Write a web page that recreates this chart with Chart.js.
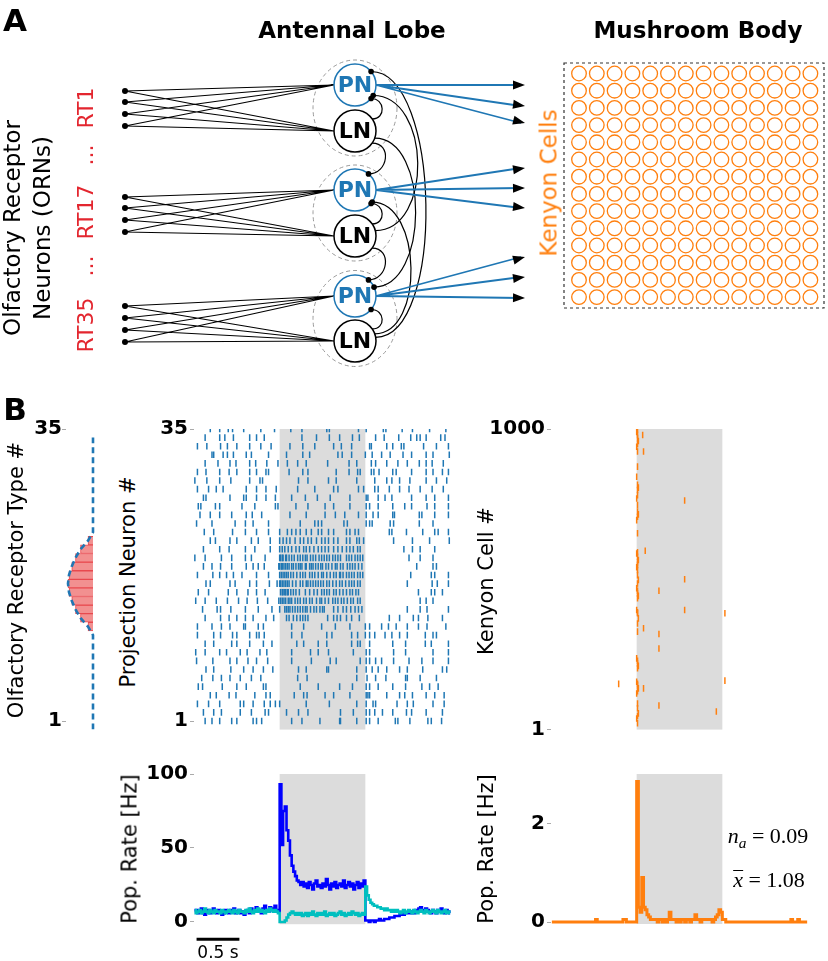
<!DOCTYPE html>
<html>
<head>
<meta charset="utf-8">
<script src="https://cdn.jsdelivr.net/npm/chart.js@4.4.1/dist/chart.umd.min.js"></script>
<style>
  body { margin: 0; background: #fff; }
  #fig { position: relative; width: 828px; height: 961px; overflow: hidden; font-family: 'DejaVu Sans', sans-serif; }
  #fig canvas { position: absolute; }
  .lbl { position: absolute; white-space: nowrap; line-height: 1; transform: translate(-50%, -50%); }
  .rot { transform: translate(-50%, -50%) rotate(-90deg); }
  .b { font-weight: bold; }
  .math { font-family: 'Liberation Serif', serif; font-size: 22px; }
  .math sub { font-size: 0.7em; font-style: italic; vertical-align: -0.3em; line-height: 0; }
  .bar { display: inline-block; border-top: 1.4px solid #000; line-height: 0.75; padding-top: 1px; }
</style>
</head>
<body>
<div id="fig">
  <canvas id="diagram" width="828" height="385" style="left:0;top:0;width:828px;height:385px"></canvas>
  <canvas id="ornChart" width="100" height="345" style="left:0;top:400px;width:100px;height:345px"></canvas>
  <canvas id="pnRaster" width="320" height="345" style="left:140px;top:400px;width:320px;height:345px"></canvas>
  <canvas id="kcRaster" width="358" height="345" style="left:470px;top:400px;width:358px;height:345px"></canvas>
  <canvas id="pnRate" width="320" height="201" style="left:140px;top:760px;width:320px;height:201px"></canvas>
  <canvas id="kcRate" width="358" height="180" style="left:470px;top:760px;width:358px;height:180px"></canvas>

  <div class="lbl b" style="left:15px;top:20px;font-size:31px">A</div>
  <div class="lbl b" style="left:352px;top:30px;font-size:23px">Antennal Lobe</div>
  <div class="lbl b" style="left:698px;top:30px;font-size:23px">Mushroom Body</div>
  <div class="lbl rot" style="left:12px;top:228px;font-size:23px">Olfactory Receptor</div>
  <div class="lbl rot" style="left:42px;top:228px;font-size:23px">Neurons (ORNs)</div>
  <div class="lbl rot" style="left:86px;top:108px;font-size:22px;color:#e3262f">RT1</div>
  <div class="lbl rot" style="left:86px;top:155px;font-size:22px;color:#e3262f">...</div>
  <div class="lbl rot" style="left:86px;top:212px;font-size:22px;color:#e3262f">RT17</div>
  <div class="lbl rot" style="left:86px;top:266px;font-size:22px;color:#e3262f">...</div>
  <div class="lbl rot" style="left:86px;top:325px;font-size:22px;color:#e3262f">RT35</div>
  <div class="lbl rot" style="left:549px;top:183px;font-size:23px;color:#ff7f0e">Kenyon Cells</div>

  <div class="lbl b" style="left:15px;top:409px;font-size:31px">B</div>
  <div class="lbl rot" style="left:16px;top:580px;font-size:21px">Olfactory Receptor Type #</div>
  <div class="lbl rot" style="left:128px;top:582px;font-size:21px">Projection Neuron #</div>
  <div class="lbl rot" style="left:486px;top:581px;font-size:21px">Kenyon Cell #</div>
  <div class="lbl rot" style="left:130px;top:849px;font-size:21px">Pop. Rate [Hz]</div>
  <div class="lbl rot" style="left:486px;top:849px;font-size:21px">Pop. Rate [Hz]</div>
  <div class="lbl math" style="left:768px;top:836px"><i>n</i><sub>a</sub> = 0.09</div>
  <div class="lbl math" style="left:769px;top:880px"><span class="bar"><i>x</i></span> = 1.08</div>
</div>

<script>
// ---------- panel B data ----------
const tMax = 3;                 // s
const stimOn = 1, stimOff = 2;  // s, odour on / off
const binSize = 0.02;           // s, population rate bins

const pnCount = 35;
const kcCount = 1000;
const ornTicks = [1, 35];
const pnTicks = [1, 35];
const kcTicks = [1, 1000];
const pnRateTicks = [0, 50, 100];
const kcRateTicks = [0, 2];

// activation of receptor types (row 0..34, bottom to top)
const ornActivation = [0,0,0,0,0,0,0,0,0,0, 0,0,0.2,0.5,0.7,0.85,0.96,1,0.96,0.85,
  0.7,0.5,0.2,0,0,0,0,0,0,0, 0,0,0,0,0];

// PN spike times in units of 10 ms, top row (PN 35) first
const pnSpikes = [
  [19,30,40,45,58,78,94,113,126,155,158,192,201,221,224,243,255,275,294],
  [13,30,36,46,65,73,82,126,143,158,170,185,193,212,222,239,253,260,264,271,288,293],
  [4,15,31,39,50,65,78,90,112,127,141,163,172,184,205,207,225,232,242,245,268,283,297],
  [21,23,34,39,46,61,67,87,108,127,135,168,173,184,200,208,219,229,244,254,271,279,298],
  [13,28,42,49,65,72,85,98,109,121,131,156,181,190,207,212,225,238,249,263,271,278,291],
  [4,14,30,41,50,65,73,84,87,111,127,133,166,181,191,194,207,210,216,232,236,254,271,279,290,297],
  [1,15,30,43,65,77,80,122,133,157,166,190,211,225,231,240,252,271,283,295],
  [4,17,26,34,61,73,84,96,121,141,163,168,192,198,211,215,228,240,251,264,278,291],
  [11,14,42,58,61,73,84,95,114,130,144,159,182,201,203,215,223,231,254,271,281,297],
  [5,8,25,30,56,71,95,98,119,133,153,163,182,201,205,215,232,246,254,272,281,297],
  [7,19,30,44,61,68,79,112,131,153,165,176,192,201,209,215,232,234,263,266,281,297],
  [3,21,48,60,69,87,124,141,145,149,175,179,201,205,208,229,233,263,279],
  [12,23,45,60,73,87,100,109,114,119,124,131,137,145,149,157,163,178,182,188,192,228,231,248,267,281,285,297],
  [19,25,42,50,67,75,89,100,104,108,112,118,124,128,133,137,143,149,153,157,163,168,178,182,190,193,198,233,255,275,298],
  [11,30,41,60,71,89,100,103,106,110,114,119,123,128,131,135,140,145,149,153,157,163,168,173,178,182,186,191,194,245,255,264,281],
  [1,13,32,44,60,67,83,100,101,103,104,107,108,111,114,117,121,124,127,130,132,136,139,142,146,149,152,155,158,162,165,168,171,178,181,184,188,191,194,197,251,264,279],
  [11,21,31,44,61,69,75,82,99,100,102,103,105,107,109,111,114,116,119,122,124,126,130,131,135,137,139,142,145,148,150,154,157,161,165,167,171,174,179,182,185,188,192,196,260,279,283],
  [4,22,30,38,46,56,73,87,100,102,104,106,108,110,113,116,120,124,127,130,135,138,141,145,149,151,155,159,163,166,170,171,174,178,181,184,187,191,194,197,253,277,281,297],
  [14,19,42,48,65,73,88,97,100,101,103,105,107,109,111,115,119,124,127,131,133,136,139,142,145,148,151,155,158,162,166,170,173,177,181,184,187,191,194,249,278,284,297],
  [5,17,40,50,63,73,83,101,103,104,106,107,109,110,113,116,119,123,130,135,140,144,149,152,155,158,163,166,170,174,178,182,185,189,192,262,277,281,290],
  [2,13,26,39,52,62,74,86,99,101,103,105,107,110,112,114,118,121,124,128,131,135,138,143,147,149,153,157,162,165,168,172,175,179,183,186,191,194,264,271,279],
  [10,27,31,43,60,75,91,100,106,108,110,112,115,118,121,124,127,130,132,136,140,143,147,150,152,163,168,174,178,183,188,192,196,249,264,272,297],
  [13,31,41,50,60,69,84,93,108,111,116,120,124,127,130,133,156,163,167,171,178,184,193,228,240,256,262,273,290],
  [4,21,32,42,58,60,75,81,114,128,149,165,182,200,205,219,227,236,249,262,272,294],
  [4,23,31,45,50,65,73,76,82,114,126,155,161,184,191,200,205,211,223,231,240,249,270,279,283],
  [13,23,44,50,65,81,91,120,128,145,155,184,191,194,205,232,247,270,277,297],
  [2,13,30,38,54,62,77,85,114,136,145,157,186,201,205,233,247,279,297],
  [3,22,42,50,63,73,86,114,137,159,166,194,201,205,212,219,233,251,266,279,297],
  [14,23,43,58,69,81,92,122,131,155,157,190,201,208,215,225,240,249,267,290,295],
  [9,22,32,42,54,67,78,121,132,190,202,212,224,247,249,264,283],
  [5,10,33,50,61,81,84,124,145,170,185,201,205,215,232,247,266,275,285],
  [19,26,41,49,71,84,89,117,128,132,153,163,182,201,203,205,225,240,246,255,271,281,292],
  [4,17,30,54,58,69,82,89,95,100,131,158,190,201,209,212,237,249,256,279,292],
  [11,23,32,54,67,83,87,108,122,133,171,186,201,205,211,220,232,248,254,271,290],
  [13,21,30,44,50,69,73,79,114,126,147,170,171,190,201,205,215,235,238,252,273,277,289]
];

// KC spikes: time (10 ms units) and cell number
const kcSpikeTimes = [101,100,101,101,102,101,100,101,101,100,101,102,101,101,100,101,101,102,101,100,
  101,101,100,101,102,101,101,100,101,101,102,101,100,101,101,102,101,100,101,101,
  102,101,101,100,101,101,102,101,100,101,101,102,101,100,101,101,102,101,100,101,
  107,108,156,110,156,126,156,203,108,126,126,79,203,108,126,193];
const kcSpikeCells = [999,990,980,970,960,950,941,925,875,841,814,805,797,780,769,747,725,716,708,697,
  653,590,586,575,564,556,548,540,531,514,498,486,470,462,453,445,437,398,390,387,
  370,353,326,237,229,220,212,204,159,152,148,137,128,120,87,71,54,45,37,21,
  980,925,762,595,500,462,398,387,337,318,270,152,163,137,80,60];

// population rates (Hz) in 20 ms bins
const pnRateOn = [7,8,6,7,9,6,5,7,8,6, 7,9,7,6,8,7,5,6,8,7, 6,8,7,9,6,7,8,6,7,5,
  7,8,6,9,7,8,10,7,8,6, 9,11,8,7,10,8,9,11,8,7,
  93,52,75,78,62,55,45,38,34,31, 28,27,25,27,24,26,23,27,25,22,
  26,28,24,25,23,26,24,29,25,22, 26,24,27,23,25,26,24,28,23,25,
  27,24,26,22,25,27,23,26,24,28,
  1,1,0,1,1,0,1,1,2,1, 1,2,2,2,3,3,3,4,4,4, 5,5,5,6,6,6,6,7,6,8,
  7,9,10,8,7,9,8,7,6,8, 7,6,8,7,9,7,6,8,7,6];
const pnRateOff = [8,6,7,8,6,7,9,7,6,8, 7,6,8,7,7,6,8,7,6,7, 8,7,6,8,7,6,8,7,7,6,
  8,7,9,7,6,8,7,9,7,8, 7,6,8,7,9,8,7,8,7,6,
  0,0,0,1,3,5,6,7,6,5, 6,5,6,4,5,6,4,6,5,7,
  5,4,6,5,6,5,7,4,5,6, 5,6,4,5,6,7,5,6,4,5,
  6,5,7,6,5,6,4,5,6,5,
  24,18,15,13,12,11,11,10,10,9, 9,8,9,8,8,7,8,7,8,7, 6,7,8,6,7,8,7,6,8,7,
  6,7,8,7,6,8,7,6,7,8, 7,6,8,7,6,7,8,6,7,6];
const kcRate = [0,0,0,0,0,0,0,0,0,0, 0,0,0,0,0,0,0,0,0,0,
  0,0,0,0,0,0,0.05,0,0,0, 0,0,0,0,0,0,0,0,0,0,
  0,0,0.05,0.05,0,0,0,0,0,0,
  2.85,0.3,0.2,0.9,0.3,0.25,0.15,0.1,0.05,0.05,
  0.05,0.05,0,0.05,0.05,0,0.05,0,0.05,0.2,
  0.05,0.05,0.05,0,0.05,0,0.05,0.05,0,0.05,
  0.05,0,0.05,0.05,0.15,0.05,0.05,0,0.05,0.05,
  0.05,0.05,0.05,0.05,0,0.05,0.1,0.15,0.25,0.2,
  0.05,0.05,0,0,0,0,0,0,0,0, 0,0,0,0,0,0,0,0,0,0,
  0,0,0,0,0,0,0,0,0,0, 0,0,0,0,0,0,0,0,0,0,
  0.05,0,0,0,0.05,0,0,0,0,0];

// ---------- panel A layout (diagram units) ----------
const ornX = 125;
const ornY = [[91,102,114,126],[197,208,220,232],[306,318,330,342]];
const cellX = 355, cellR = 21;
const pnY = [85, 190, 296];
const lnY = [131, 236, 341];
const kcTipX = 525;
const kcTipY = [[85,106,123],[168,188,208],[257,277,298]];
const kcGrid = { x0: 579, y0: 73.5, dx: 17.8, dy: 17.2, n: 14 };
const kcBox = [564, 63, 824, 308];
// LN group -> PN group: start angle, end angle (deg), bulge
const lnToPn = [
  [0,0,-35,40,14], [0,1,35,-50,20], [0,2,20,-25,55],
  [1,0,-15,30,58], [1,1,-35,40,14], [1,2,35,-50,20],
  [2,0,-10,-40,70], [2,1,-20,35,50], [2,2,-35,40,14]
];

Chart.defaults.font.family = "'DejaVu Sans', sans-serif";
Chart.defaults.color = '#000';
Chart.defaults.animation = false;
Chart.defaults.layout.autoPadding = false;
Chart.defaults.plugins.legend.display = false;
Chart.defaults.plugins.tooltip.enabled = false;

const stimBand = {
  id: 'stimBand',
  beforeDatasetsDraw(chart) {
    const { ctx, chartArea: a, scales: { x } } = chart;
    const x0 = x.getPixelForValue(stimOn), x1 = x.getPixelForValue(stimOff);
    ctx.save();
    ctx.fillStyle = '#dcdcdc';
    ctx.fillRect(x0, a.top, x1 - x0, a.bottom - a.top);
    ctx.restore();
  }
};

function yAxis(min, max, ticks, width, pad) {
  return {
    type: 'linear', min, max, offset: false,
    afterBuildTicks: s => { s.ticks = ticks.map(v => ({ value: v })); },
    afterFit: s => { s.width = width; },
    ticks: { autoSkip: false, padding: pad, color: '#000', font: { size: 20, weight: 'bold' }, callback: v => String(v) },
    grid: { offset: false, drawOnChartArea: false, drawTicks: true, tickLength: 4, tickColor: '#aaa', tickWidth: 1 },
    border: { display: false }
  };
}
function timeAxis() {
  return { type: 'linear', min: 0, max: tMax, display: false };
}
function rateSeries(arr) {
  return arr.map((v, k) => ({ x: (k + 0.5) * binSize, y: v }));
}

// ---------- panel A diagram ----------
function edge(cy, deg) {
  const r = deg * Math.PI / 180;
  return { x: cellX + cellR * Math.cos(r), y: cy + cellR * Math.sin(r) };
}
const ornLines = [];
ornY.forEach((grp, g) => grp.forEach(y => {
  ornLines.push({ x: ornX, y }, { x: cellX - cellR, y: pnY[g] }, { x: null, y: null });
  ornLines.push({ x: ornX, y }, { x: cellX - cellR, y: lnY[g] }, { x: null, y: null });
}));
const kcLines = [];
kcTipY.forEach((tips, g) => tips.forEach(ty => {
  kcLines.push({ x: cellX + cellR, y: pnY[g] }, { x: kcTipX - 4, y: ty }, { x: null, y: null });
}));
const kcCells = [];
for (let i = 0; i < kcGrid.n; i++) {
  for (let j = 0; j < kcGrid.n; j++) kcCells.push({ x: kcGrid.x0 + j * kcGrid.dx, y: kcGrid.y0 + i * kcGrid.dy });
}
const neurons = pnY.map(y => ({ x: cellX, y })).concat(lnY.map(y => ({ x: cellX, y })));
const neuronColors = pnY.map(() => '#1f77b4').concat(lnY.map(() => '#000'));

const diagramExtras = {
  id: 'diagramExtras',
  beforeDatasetsDraw(chart) {
    const { ctx, scales: { x, y } } = chart;
    const X = v => x.getPixelForValue(v), Y = v => y.getPixelForValue(v);
    ctx.save();
    ctx.strokeStyle = '#9a9a9a';
    ctx.lineWidth = 1;
    ctx.setLineDash([4, 3]);
    pnY.forEach((py, g) => {
      ctx.beginPath();
      ctx.ellipse(X(cellX), Y((py + lnY[g]) / 2), 42, 48, 0, 0, Math.PI * 2);
      ctx.stroke();
    });
    ctx.setLineDash([]);
    ctx.strokeStyle = '#000';
    ctx.lineWidth = 1.2;
    lnToPn.forEach(([g, h, a0, a1, b]) => {
      const s = edge(lnY[g], a0), e = edge(pnY[h], a1);
      ctx.beginPath();
      ctx.moveTo(X(s.x), Y(s.y));
      ctx.bezierCurveTo(X(s.x + b), Y(s.y), X(e.x + b), Y(e.y), X(e.x), Y(e.y));
      ctx.stroke();
    });
    ctx.restore();
  },
  afterDatasetsDraw(chart) {
    const { ctx, scales: { x, y } } = chart;
    const X = v => x.getPixelForValue(v), Y = v => y.getPixelForValue(v);
    ctx.save();
    // synapse dots
    ctx.fillStyle = '#000';
    lnToPn.forEach(([g, h, a0, a1]) => {
      const e = edge(pnY[h], a1);
      ctx.beginPath();
      ctx.arc(X(e.x), Y(e.y), 2.8, 0, Math.PI * 2);
      ctx.fill();
    });
    // arrow heads
    kcTipY.forEach((tips, g) => tips.forEach(ty => {
      const x0 = X(cellX + cellR), y0 = Y(pnY[g]), x1 = X(kcTipX), y1 = Y(ty);
      const ang = Math.atan2(y1 - y0, x1 - x0);
      ctx.save();
      ctx.translate(x1, y1);
      ctx.rotate(ang);
      ctx.beginPath();
      ctx.moveTo(0, 0);
      ctx.lineTo(-12, -4.5);
      ctx.lineTo(-12, 4.5);
      ctx.closePath();
      ctx.fill();
      ctx.restore();
    }));
    // neuron names
    ctx.font = "bold 22px 'DejaVu Sans'";
    ctx.textAlign = 'center';
    ctx.textBaseline = 'middle';
    pnY.forEach(py => { ctx.fillStyle = '#1f77b4'; ctx.fillText('PN', X(cellX), Y(py) + 1); });
    lnY.forEach(ly => { ctx.fillStyle = '#000'; ctx.fillText('LN', X(cellX), Y(ly) + 1); });
    // mushroom body outline
    ctx.strokeStyle = '#333';
    ctx.lineWidth = 1.2;
    ctx.setLineDash([3, 3]);
    ctx.strokeRect(X(kcBox[0]), Y(kcBox[1]), X(kcBox[2]) - X(kcBox[0]), Y(kcBox[3]) - Y(kcBox[1]));
    ctx.restore();
  }
};

new Chart(document.getElementById('diagram'), {
  type: 'scatter',
  data: {
    datasets: [
      { data: neurons, pointRadius: cellR, pointBackgroundColor: '#fff', pointBorderColor: neuronColors, pointBorderWidth: 1.5 },
      { data: ornY.flat().map(y => ({ x: ornX, y })), pointRadius: 3, pointBackgroundColor: '#000', pointBorderColor: '#000', pointBorderWidth: 0 },
      { data: kcCells, pointRadius: 7.3, pointBackgroundColor: 'rgba(0,0,0,0)', pointBorderColor: '#ff7f0e', pointBorderWidth: 1.3 },
      { data: ornLines, showLine: true, borderColor: '#000', borderWidth: 1.2, pointRadius: 0 },
      { data: kcLines, showLine: true, borderColor: '#1f77b4', borderWidth: 1.8, pointRadius: 0 }
    ]
  },
  options: {
    responsive: false, devicePixelRatio: 1,
    layout: { padding: 0, autoPadding: false },
    scales: {
      x: { type: 'linear', min: 0, max: 828, display: false },
      y: { type: 'linear', min: 0, max: 385, reverse: true, display: false }
    }
  },
  plugins: [diagramExtras]
});

// ---------- ORN activation ----------
const ornPoints = ornActivation.map((v, i) => ({ x: v, y: i }));
new Chart(document.getElementById('ornChart'), {
  type: 'bar',
  data: {
    datasets: [
      { type: 'line', data: ornPoints, borderColor: '#1f77b4', borderWidth: 2.6, borderDash: [6, 4], pointRadius: 0 },
      { type: 'bar', data: ornPoints.filter(p => p.x > 0), backgroundColor: '#f29090', borderColor: '#e8494e',
        borderWidth: 1, borderSkipped: 'start', barPercentage: 1, categoryPercentage: 1 }
    ]
  },
  options: {
    indexAxis: 'y',
    responsive: false, devicePixelRatio: 1,
    layout: { padding: { left: 0, right: 3, top: 29, bottom: 15.4 }, autoPadding: false },
    scales: {
      x: { type: 'linear', min: -0.16, max: 1.08, reverse: true, display: false },
      y: yAxis(0, pnCount, ornTicks, 66, 0)
    }
  }
});

// ---------- PN raster ----------
const pnPoints = pnSpikes.flatMap((row, i) => row.map(t => ({ x: t / 100, y: pnCount - i })));
new Chart(document.getElementById('pnRaster'), {
  type: 'scatter',
  data: { datasets: [{ data: pnPoints, pointStyle: 'line', pointRotation: 90, pointRadius: 3.3,
    pointBorderWidth: 1.5, pointBorderColor: '#1f77b4' }] },
  options: {
    responsive: false, devicePixelRatio: 1,
    layout: { padding: { left: 0, right: 9, top: 29, bottom: 15.4 }, autoPadding: false },
    scales: { x: timeAxis(), y: yAxis(0, pnCount, pnTicks, 54, 2) }
  },
  plugins: [stimBand]
});

// ---------- KC raster ----------
const kcPoints = kcSpikeTimes.map((t, i) => ({ x: t / 100, y: kcSpikeCells[i] }));
new Chart(document.getElementById('kcRaster'), {
  type: 'scatter',
  data: { datasets: [{ data: kcPoints, pointStyle: 'line', pointRotation: 90, pointRadius: 3.3,
    pointBorderWidth: 1.5, pointBorderColor: '#ff7f0e' }] },
  options: {
    responsive: false, devicePixelRatio: 1,
    layout: { padding: { left: 0, right: 20, top: 29, bottom: 15.4 }, autoPadding: false },
    scales: { x: timeAxis(), y: yAxis(0, kcCount, kcTicks, 81, 2) }
  },
  plugins: [stimBand]
});

// ---------- PN population rate ----------
const scaleBar = {
  id: 'scaleBar',
  afterDraw(chart) {
    const { ctx, chartArea: a, scales: { x } } = chart;
    const x0 = x.getPixelForValue(0.03), x1 = x.getPixelForValue(0.53);
    ctx.save();
    ctx.strokeStyle = '#000';
    ctx.lineWidth = 3;
    ctx.beginPath();
    ctx.moveTo(x0, a.bottom + 15);
    ctx.lineTo(x1, a.bottom + 15);
    ctx.stroke();
    ctx.fillStyle = '#000';
    ctx.font = "17px 'DejaVu Sans'";
    ctx.textAlign = 'center';
    ctx.textBaseline = 'middle';
    ctx.fillText('0.5 s', (x0 + x1) / 2, a.bottom + 29);
    ctx.restore();
  }
};
new Chart(document.getElementById('pnRate'), {
  type: 'line',
  data: {
    datasets: [
      { data: rateSeries(pnRateOff), borderColor: '#00bfbf', borderWidth: 2.6, pointRadius: 0, stepped: 'middle' },
      { data: rateSeries(pnRateOn), borderColor: '#0000ff', borderWidth: 2.6, pointRadius: 0, stepped: 'middle' }
    ]
  },
  options: {
    responsive: false, devicePixelRatio: 1,
    layout: { padding: { left: 0, right: 9, top: 14, bottom: 36.8 }, autoPadding: false },
    scales: { x: timeAxis(), y: yAxis(-1.5, 100, pnRateTicks, 54, 2) }
  },
  plugins: [stimBand, scaleBar]
});

// ---------- KC population rate ----------
new Chart(document.getElementById('kcRate'), {
  type: 'line',
  data: {
    datasets: [
      { data: rateSeries(kcRate), borderColor: '#ff7f0e', borderWidth: 3, pointRadius: 0, stepped: 'middle' }
    ]
  },
  options: {
    responsive: false, devicePixelRatio: 1,
    layout: { padding: { left: 0, right: 20, top: 14, bottom: 16 }, autoPadding: false },
    scales: { x: timeAxis(), y: yAxis(-0.04, 3, kcRateTicks, 81, 2) }
  },
  plugins: [stimBand]
});
</script>
</body>
</html>
